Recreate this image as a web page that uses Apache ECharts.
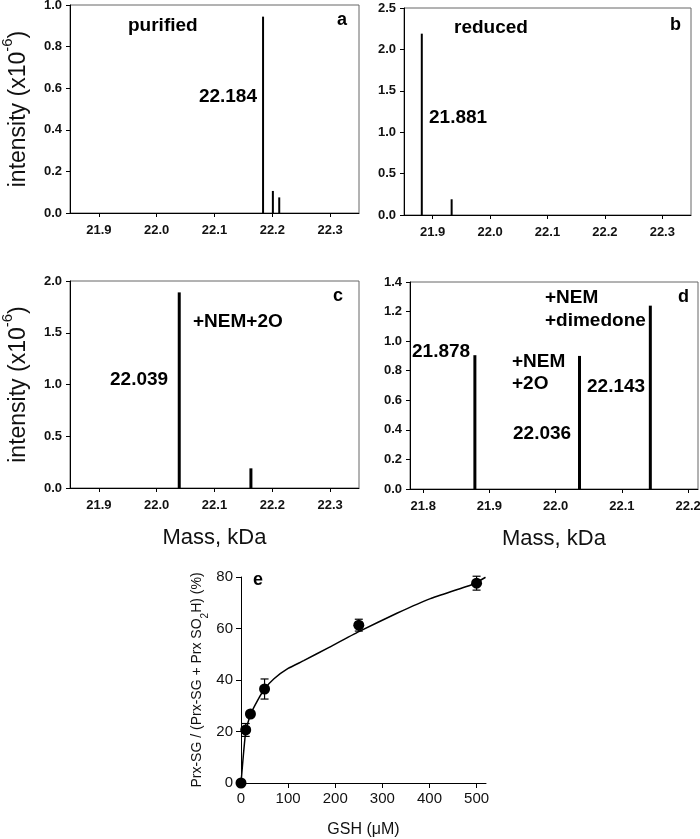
<!DOCTYPE html>
<html><head><meta charset="utf-8">
<script src="https://cdn.jsdelivr.net/npm/echarts@6/dist/echarts.min.js"></script>
<style>html,body{margin:0;padding:0;background:#fff}#c{width:700px;height:839px}</style>
</head><body><div id="c"></div>
<script>
// ---- data ----
const massTicksABC = [21.9, 22.0, 22.1, 22.2, 22.3];
const massTicksD = [21.8, 21.9, 22.0, 22.1, 22.2];
const peaksA = [[22.184, 0.944], [22.201, 0.106], [22.212, 0.075]];
const peaksB = [[21.881, 2.19], [21.933, 0.19]];
const peaksC = [[22.039, 1.89], [22.163, 0.19]];
const peaksD = [[21.878, 0.905], [22.036, 0.90], [22.143, 1.24]];
const gsh = [0, 10, 20, 50, 250, 500];
const frac = [0, 20.6, 26.8, 36.5, 61.3, 77.6];
const fracErr = [0, 2.5, 1.0, 3.9, 2.3, 2.7];
const fitX = [0, 10, 20, 35, 50, 70, 100, 133, 185, 250, 332, 402, 494, 519];
const fitY = [0, 20, 26.5, 32, 36.5, 40.5, 44.5, 47.5, 52.5, 58.8, 66, 71.6, 77.3, 79.9];
const gshTicks = [0, 100, 200, 300, 400, 500];

const chart = echarts.init(document.getElementById('c'));
const F = 'Liberation Sans, Arial, sans-serif';

function peakSeries(data, gi, w) {
  return {
    type: 'custom', xAxisIndex: gi, yAxisIndex: gi, data: data,
    renderItem: function (params, api) {
      const p0 = api.coord([api.value(0), 0]);
      const p1 = api.coord([api.value(0), api.value(1)]);
      return { type: 'line', shape: { x1: p0[0], y1: p0[1], x2: p1[0], y2: p1[1] },
        style: { stroke: '#000', lineWidth: w } };
    }
  };
}
function massX(gi, min, max, ticks, nameShow) {
  return {
    gridIndex: gi, type: 'value', min: min, max: max,
    name: nameShow ? 'Mass, kDa' : '', nameLocation: 'middle', nameGap: 39,
    nameTextStyle: { fontFamily: F, fontSize: 22, color: '#111' },
    axisLine: { lineStyle: { color: '#000', width: 1 } },
    axisTick: { show: true, customValues: ticks, length: 4, lineStyle: { color: '#000' } },
    axisLabel: { customValues: ticks, formatter: v => v.toFixed(1), fontFamily: F, fontWeight: 'bold', fontSize: 13, color: '#111', margin: 11 },
    splitLine: { show: false }
  };
}
function intY(gi, max, interval, nameShow) {
  return {
    gridIndex: gi, type: 'value', min: 0, max: max, interval: interval,
    name: nameShow ? '{a|intensity (x10}{s|-6}{a|)}' : '', nameLocation: 'middle', nameGap: 40,
    nameTextStyle: { rich: {
      a: { fontFamily: F, fontSize: 23, color: '#111', lineHeight: 30, verticalAlign: 'bottom' },
      s: { fontFamily: F, fontSize: 15, color: '#111', lineHeight: 30, verticalAlign: 'top' } } },
    axisLine: { lineStyle: { color: '#000', width: 1 } },
    axisTick: { show: true, length: 4, lineStyle: { color: '#000' } },
    axisLabel: { formatter: v => v.toFixed(1), fontFamily: F, fontWeight: 'bold', fontSize: 13, color: '#111', margin: 8 },
    splitLine: { show: false }
  };
}
function txt(x, y, t, size, align) {
  return { type: 'text', x: x, y: y, style: { text: t, fill: '#000', font: 'bold ' + size + 'px ' + F, align: align || 'left', verticalAlign: 'middle' } };
}
const gridBase = { show: true, borderColor: '#666', borderWidth: 1, outerBoundsMode: 'none', containLabel: false };

const option = {
  animation: false,
  backgroundColor: '#fff',
  grid: [
    Object.assign({ left: 70, right: 341, top: 5, bottom: 626 }, gridBase),
    Object.assign({ left: 404, right: 9, top: 8, bottom: 624 }, gridBase),
    Object.assign({ left: 70, right: 341, top: 281, bottom: 351 }, gridBase),
    Object.assign({ left: 410, right: 2, top: 282, bottom: 350 }, gridBase),
    { left: 241, right: 214, top: 577, bottom: 56, outerBoundsMode: 'none', containLabel: false }
  ],
  xAxis: [
    massX(0, 21.85, 22.35, massTicksABC, false),
    massX(1, 21.85, 22.35, massTicksABC, false),
    massX(2, 21.85, 22.35, massTicksABC, true),
    massX(3, 21.78, 22.215, massTicksD, true),
    { gridIndex: 4, type: 'value', min: 0, max: 520,
      name: 'GSH (\u03bcM)', nameLocation: 'middle', nameGap: 39,
      nameTextStyle: { fontFamily: F, fontSize: 16, color: '#111' },
      axisLine: { lineStyle: { color: '#000' } },
      axisTick: { customValues: gshTicks, length: 5, lineStyle: { color: '#000' } },
      axisLabel: { customValues: gshTicks, fontFamily: F, fontSize: 15, color: '#111', margin: 8 },
      splitLine: { show: false } }
  ],
  yAxis: [
    intY(0, 1.0, 0.2, true),
    intY(1, 2.5, 0.5, false),
    intY(2, 2.0, 0.5, true),
    intY(3, 1.4, 0.2, false),
    { gridIndex: 4, type: 'value', min: 0, max: 80, interval: 20,
      name: '{a|Prx-SG / (Prx-SG + Prx SO}{b|2}{a|H) (%)}', nameLocation: 'middle', nameGap: 31,
      nameTextStyle: { rich: {
        a: { fontFamily: F, fontSize: 14, color: '#111', lineHeight: 20, verticalAlign: 'top' },
        b: { fontFamily: F, fontSize: 10, color: '#111', lineHeight: 20, verticalAlign: 'bottom' } } },
      axisLine: { show: true, lineStyle: { color: '#000' } },
      axisTick: { show: true, length: 5, lineStyle: { color: '#000' } },
      axisLabel: { fontFamily: F, fontSize: 15, color: '#111', margin: 8 },
      splitLine: { show: false } }
  ],
  series: [
    peakSeries(peaksA, 0, 2),
    peakSeries(peaksB, 1, 2),
    peakSeries(peaksC, 2, 3),
    peakSeries(peaksD, 3, 3),
    { type: 'line', xAxisIndex: 4, yAxisIndex: 4, data: fitX.map((x, i) => [x, fitY[i]]),
      smooth: 0.15, showSymbol: false, lineStyle: { color: '#000', width: 1.5 }, z: 2 },
    { type: 'custom', xAxisIndex: 4, yAxisIndex: 4, z: 3,
      data: gsh.map((x, i) => [x, frac[i] - fracErr[i], frac[i] + fracErr[i]]),
      renderItem: function (params, api) {
        const lo = api.coord([api.value(0), api.value(1)]);
        const hi = api.coord([api.value(0), api.value(2)]);
        const c = 4;
        const st = { stroke: '#000', lineWidth: 1.2 };
        return { type: 'group', children: [
          { type: 'line', shape: { x1: lo[0], y1: lo[1], x2: hi[0], y2: hi[1] }, style: st },
          { type: 'line', shape: { x1: lo[0] - c, y1: lo[1], x2: lo[0] + c, y2: lo[1] }, style: st },
          { type: 'line', shape: { x1: hi[0] - c, y1: hi[1], x2: hi[0] + c, y2: hi[1] }, style: st }
        ] };
      } },
    { type: 'scatter', xAxisIndex: 4, yAxisIndex: 4, z: 4, data: gsh.map((x, i) => [x, frac[i]]),
      symbol: 'circle', symbolSize: 11, itemStyle: { color: '#000', opacity: 1 } }
  ],
  graphic: [
    txt(128, 26, 'purified', 19), txt(257, 97, '22.184', 19, 'right'), txt(337, 20, 'a', 18),
    txt(454, 28, 'reduced', 19), txt(429, 118, '21.881', 19), txt(670, 25, 'b', 18),
    txt(193, 322, '+NEM+2O', 19), txt(110, 380, '22.039', 19), txt(333, 296, 'c', 18),
    txt(545, 298, '+NEM', 19), txt(545, 321, '+dimedone', 19), txt(678, 297, 'd', 18),
    txt(412, 352, '21.878', 19), txt(512, 362, '+NEM', 19), txt(512, 384, '+2O', 19),
    txt(587, 387, '22.143', 19), txt(513, 434, '22.036', 19),
    txt(253, 580, 'e', 18)
  ]
};
chart.setOption(option);
</script>
</body></html>
